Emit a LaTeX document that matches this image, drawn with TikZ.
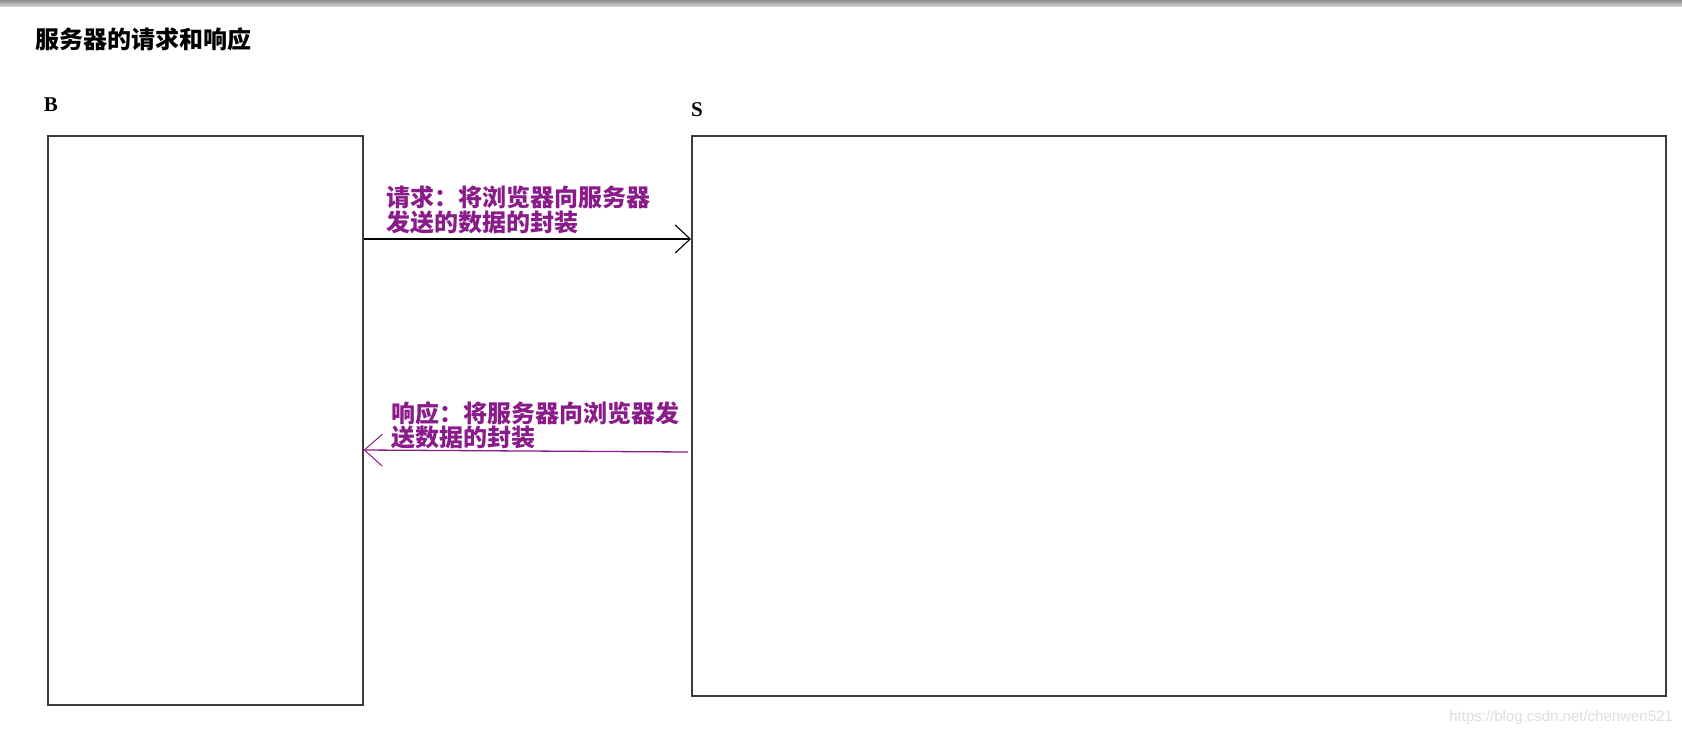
\documentclass[tikz,border=0pt]{standalone}
\usepackage{fontspec}
\newfontfamily\cjk{Noto Sans CJK SC}
\newfontfamily\wmfont{Liberation Sans}
\setmainfont{Liberation Serif}
\usetikzlibrary{arrows.meta}
\definecolor{lbl}{HTML}{8A1C8A}
\definecolor{edge}{HTML}{3C3C3C}
\tikzset{
  panel/.style={draw=edge, line width=1.6pt, inner sep=0pt, anchor=north west},
  reqarrow/.style={draw=black, line width=1.3pt, -{Straight Barb[length=15pt,width=28pt,line width=1.1pt]}},
  resarrow/.style={draw=lbl, line width=1.3pt, -{Straight Barb[length=18pt,width=32pt,line width=1pt]}},
  lbltext/.style={text=lbl, font=\cjk\bfseries\fontsize{24}{23}\selectfont, align=left, inner sep=0pt, anchor=north west},
  titletext/.style={font=\cjk\bfseries\fontsize{24}{26}\selectfont, inner sep=0pt, anchor=west},
  lettertext/.style={font=\bfseries\fontsize{21}{24}\selectfont, inner sep=0pt},
  wmtext/.style={text=black!13, font=\wmfont\fontsize{15}{18}\selectfont, inner sep=0pt, anchor=base east}
}
\begin{document}
\begin{tikzpicture}[x=1pt,y=-1pt]
\useasboundingbox (0,0) rectangle (1682,734);
\fill[white] (0,0) rectangle (1682,734);
\shade[top color=black!45, bottom color=black!18] (0,0) rectangle (1682,6);
\node[titletext] (title) at (35,39) {服务器的请求和响应};
\node[lettertext] (blabel) at (51,105) {B};
\node[lettertext] (slabel) at (697,110) {S};
\node[panel, minimum width=315pt, minimum height=569pt] (bbox) at (47,135) {};
\node[panel, minimum width=974pt, minimum height=560pt] (sbox) at (691,135) {};
\draw[reqarrow] (bbox.east |- 0,239) -- (sbox.west |- 0,239);
\draw[resarrow] ([xshift=-3pt]sbox.west |- 0,452) -- (bbox.east |- 0,450);
\node[lbltext] (reqlabel) at (386,186) {请求：将浏览器向服务器\\发送的数据的封装};
\node[lbltext] (reslabel) at (391,401) {响应：将服务器向浏览器发\\送数据的封装};
\node[wmtext] (wm) at (1673,721) {https://blog.csdn.net/chenwen521};
\end{tikzpicture}
\end{document}
